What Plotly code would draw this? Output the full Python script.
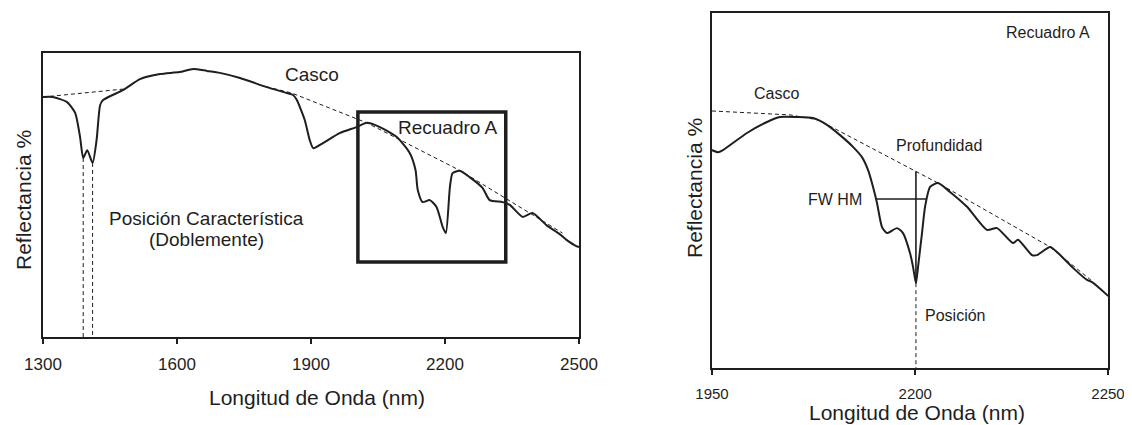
import plotly.graph_objects as go

# ---------------- Left panel: full spectrum ----------------
wl_full = [1300, 1322, 1354, 1372, 1383, 1390, 1399, 1411, 1420, 1428, 1435, 1480, 1517, 1562,
           1606, 1636, 1667, 1696, 1741, 1801, 1846, 1860, 1868, 1886, 1897, 1905, 1927, 1964,
           2002, 2025, 2054, 2092, 2121, 2134, 2139, 2150, 2166, 2181, 2195, 2202, 2211, 2217,
           2233, 2255, 2284, 2300, 2329, 2345, 2374, 2396, 2427, 2456, 2472, 2494, 2500]
refl_full = [84.5, 84.5, 82.7, 78.9, 70.4, 63.0, 65.8, 61.3, 69.4, 81.7, 83.5, 87.0, 90.8, 92.6,
             93.3, 94.4, 93.7, 93.0, 91.2, 88.0, 85.9, 85.2, 83.5, 76.4, 69.4, 66.5, 68.3, 71.8,
             73.9, 75.4, 73.9, 70.4, 64.8, 58.8, 51.8, 47.5, 48.2, 45.8, 38.7, 36.6, 52.8, 57.7,
             58.5, 56.3, 52.5, 48.2, 47.5, 46.5, 42.3, 43.7, 39.4, 36.3, 34.2, 32.0, 31.7]

hull_full_wl = [1300, 1480, None, 1785, 1857, 2025, 2235, 2463]
hull_full_refl = [84.5, 87.3, None, 88.7, 85.9, 75.4, 58.5, 36.6]

doublet_wl = [1390, 1411]
doublet_refl = [63.0, 61.3]

full_ticks = [1300, 1600, 1900, 2200, 2500]

# ---------------- Right panel: Recuadro A ----------------
wl_inset = [1950.0, 1954.5, 1958.3, 1976.5, 1991.7, 2001.5, 2014.4, 2026.5, 2037.1, 2047.0,
            2056.8, 2063.6, 2068.2, 2072.0, 2075.0, 2078.8, 2082.6, 2090.2, 2094.7, 2100.0,
            2102.3, 2104.5, 2106.1, 2109.1, 2111.4, 2115.2, 2121.2, 2130.3, 2143.2, 2158.3,
            2165.9, 2178.0, 2181.8, 2192.4, 2196.2, 2206.1, 2212.1, 2223.5, 2234.1, 2237.9,
            2249.2, 2250.0]
refl_inset = [61.4, 60.8, 61.4, 66.2, 69.3, 70.7, 70.7, 70.4, 68.5, 65.6,
              62.3, 59.4, 55.8, 51.0, 46.5, 39.7, 38.0, 39.4, 38.0, 32.4,
              28.5, 23.9, 28.5, 38.0, 45.4, 51.0, 52.1, 49.6, 45.4, 38.9,
              39.4, 35.2, 36.1, 31.8, 31.8, 34.1, 32.4, 28.2, 24.8, 24.2,
              20.6, 20.3]

hull_inset_wl = [1950.0, 2009.1, 2030.3, 2121.2, 2206.1, 2237.9]
hull_inset_refl = [72.4, 71.3, 69.9, 52.1, 34.1, 24.5]

feature_pos = 2104.5
feature_min = 23.9
feature_hull = 55.4
fwhm_wl = [2075.0, 2112.1]
fwhm_refl = 47.6

inset_tick_vals = [1950, 2104, 2250]
inset_tick_text = ["1950", "2200", "2250"]

FONT = "Liberation Sans, Arial, Helvetica, sans-serif"
INK = "#1e1e1e"
OFF = 8                       # page body margin in the browser
W, H = 1132 - OFF, 425 - OFF


def px(x):
    return (x - OFF) / W


def py(y):
    return 1 - (y - OFF) / H


fig = go.Figure()

DASH = dict(color=INK, width=1, dash="4px,3px")

# left traces
fig.add_trace(go.Scatter(x=hull_full_wl, y=hull_full_refl, mode="lines", connectgaps=False,
                         line=DASH, xaxis="x", yaxis="y"))
for wl, r in zip(doublet_wl, doublet_refl):
    fig.add_trace(go.Scatter(x=[wl, wl], y=[r, 0], mode="lines", line=DASH,
                             xaxis="x", yaxis="y"))
fig.add_trace(go.Scatter(x=wl_full, y=refl_full, mode="lines",
                         line=dict(color=INK, width=2, shape="spline", smoothing=0.6),
                         xaxis="x", yaxis="y"))

# right traces
fig.add_trace(go.Scatter(x=hull_inset_wl, y=hull_inset_refl, mode="lines", line=DASH,
                         xaxis="x2", yaxis="y2"))
fig.add_trace(go.Scatter(x=[feature_pos, feature_pos], y=[feature_min, 0], mode="lines",
                         line=DASH, xaxis="x2", yaxis="y2"))
fig.add_trace(go.Scatter(x=[feature_pos, feature_pos], y=[feature_hull, feature_min], mode="lines",
                         line=dict(color=INK, width=1.6), xaxis="x2", yaxis="y2"))
fig.add_trace(go.Scatter(x=fwhm_wl, y=[fwhm_refl, fwhm_refl], mode="lines",
                         line=dict(color=INK, width=1.6), xaxis="x2", yaxis="y2"))
fig.add_trace(go.Scatter(x=wl_inset, y=refl_inset, mode="lines",
                         line=dict(color=INK, width=2, shape="spline", smoothing=0.6),
                         xaxis="x2", yaxis="y2"))

axis_common = dict(showgrid=False, zeroline=False, showline=True, linecolor=INK, linewidth=2,
                   mirror=True, ticks="outside", ticklen=5, tickwidth=2, tickcolor=INK,
                   automargin=False, ticklabelstandoff=6)
yaxis_common = dict(showticklabels=False, showgrid=False, zeroline=False, showline=True,
                    linecolor=INK, linewidth=2, mirror=True, ticks="", automargin=False)

fig.update_layout(
    template="none",
    width=W, height=H, margin=dict(l=0, r=0, t=0, b=0, pad=0, autoexpand=False),
    paper_bgcolor="white", plot_bgcolor="white", showlegend=False,
    font=dict(family=FONT, color=INK),
    xaxis=dict(domain=[px(43), px(579)], range=[1300, 2500], tickvals=full_ticks,
               tickfont=dict(size=17, family=FONT, color=INK), anchor="y", **axis_common),
    yaxis=dict(domain=[py(337), py(53)], range=[0, 100], anchor="x", **yaxis_common),
    xaxis2=dict(domain=[px(712), px(1108)], range=[1950, 2250], tickvals=inset_tick_vals,
                ticktext=inset_tick_text, tickfont=dict(size=15, family=FONT, color=INK),
                anchor="y2", **axis_common),
    yaxis2=dict(domain=[py(368), py(13)], range=[0, 100], anchor="x2", **yaxis_common),
)

# Recuadro A box on left panel
fig.add_shape(type="rect", xref="x", yref="y", x0=2005, x1=2336, y0=26.4, y1=79.2,
              line=dict(color=INK, width=3.5))


def ann(text, x, y, size, xref="x", yref="y", **kw):
    fig.add_annotation(text=text, x=x, y=y, xref=xref, yref=yref, showarrow=False,
                       xanchor="center", yanchor="middle",
                       font=dict(size=size, family=FONT, color=INK), **kw)


# left annotations
ann("Casco", 1902, 92.6, 19)
ann("Recuadro A", 2207, 73.9, 19)
ann("Posición Característica", 1665, 41.9, 19)
ann("(Doblemente)", 1665, 34.2, 19)

# right annotations
ann("Casco", 1999, 77.2, 16, "x2", "y2")
ann("Profundidad", 2122, 62.8, 16, "x2", "y2")
ann("FW HM", 2043, 47.6, 16, "x2", "y2")
ann("Posición", 2134, 14.9, 16, "x2", "y2")
ann("Recuadro A", 2204.5, 94.4, 16, "x2", "y2")

# axis titles
ann("Longitud de Onda (nm)", px(317), py(397), 21, "paper", "paper")
ann("Longitud de Onda (nm)", px(917), py(412), 21, "paper", "paper")
ann("Reflectancia %", px(23), py(200), 21, "paper", "paper", textangle=-90)
ann("Reflectancia %", px(694), py(188), 21, "paper", "paper", textangle=-90)

fig.write_html("out.html")
